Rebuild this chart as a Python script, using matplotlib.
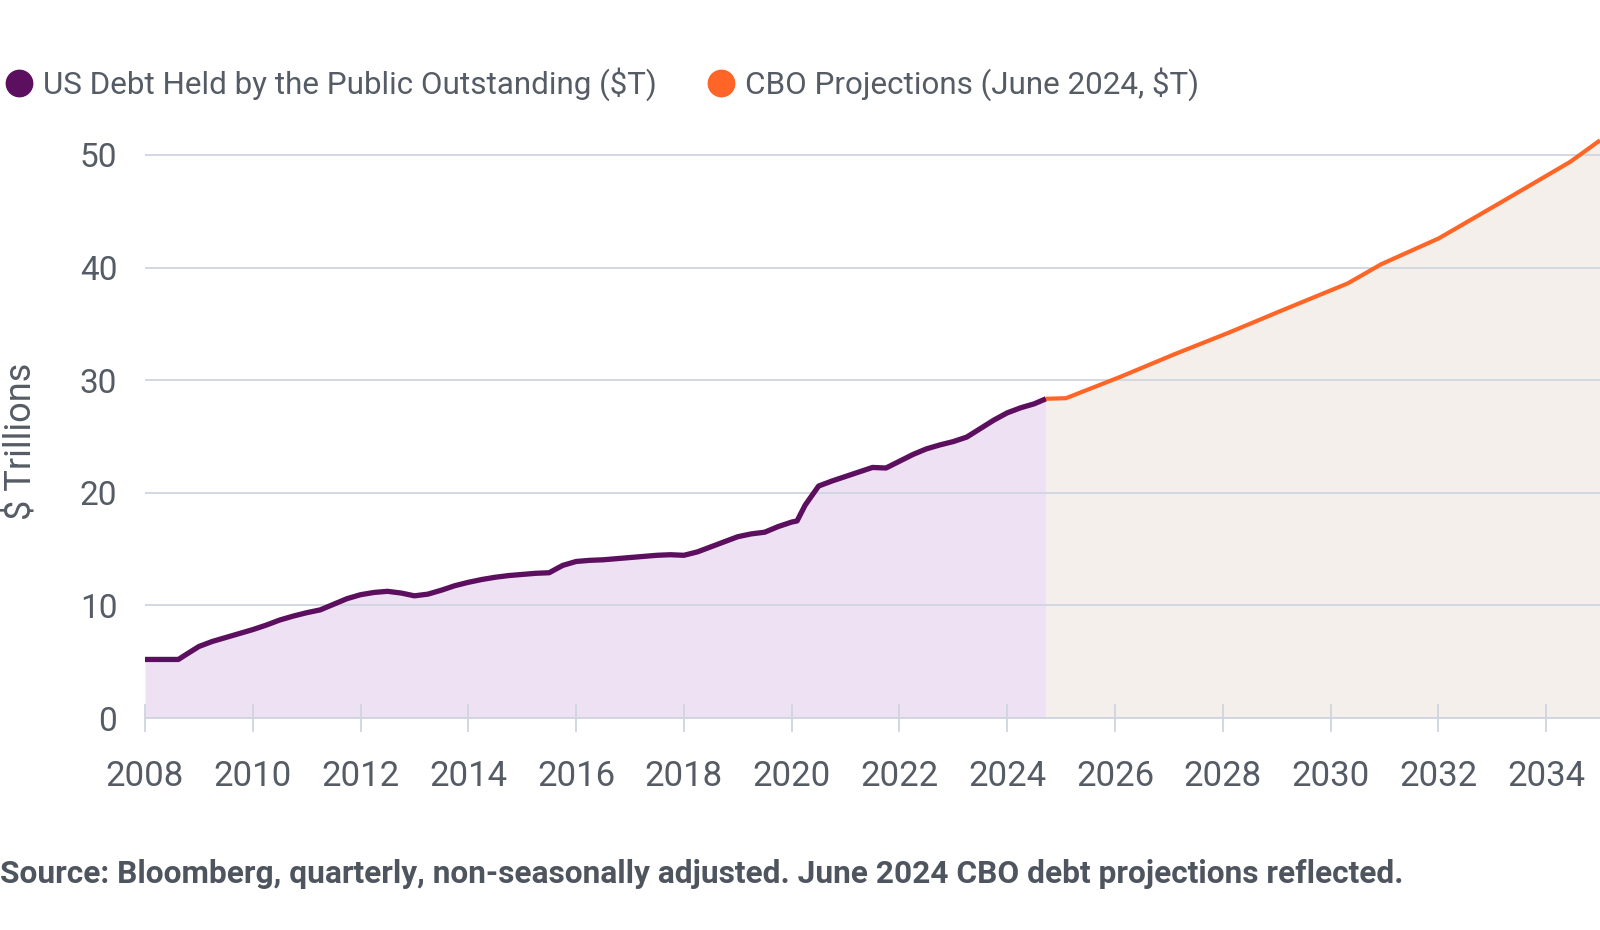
import matplotlib.pyplot as plt
from matplotlib.lines import Line2D

# quarterly debt held by the public ($T)
hist_years = [2008.00, 2008.25, 2008.50, 2008.62, 2008.75, 2009.00, 2009.25, 2009.50, 2009.75,
              2010.00, 2010.25, 2010.50, 2010.75, 2011.00, 2011.25, 2011.50, 2011.75,
              2012.00, 2012.25, 2012.50, 2012.75, 2013.00, 2013.25, 2013.50, 2013.75,
              2014.00, 2014.25, 2014.50, 2014.75, 2015.00, 2015.25, 2015.50, 2015.75,
              2016.00, 2016.25, 2016.50, 2016.75, 2017.00, 2017.25, 2017.50, 2017.75,
              2018.00, 2018.25, 2018.50, 2018.75, 2019.00, 2019.25, 2019.50, 2019.75,
              2020.00, 2020.10, 2020.25, 2020.50, 2020.75, 2021.00, 2021.25, 2021.50, 2021.75,
              2022.00, 2022.25, 2022.50, 2022.75, 2023.00, 2023.25, 2023.50, 2023.75,
              2024.00, 2024.25, 2024.50, 2024.72]
hist_debt = [5.2, 5.2, 5.2, 5.2, 5.6, 6.35, 6.8, 7.15, 7.5,
             7.85, 8.25, 8.7, 9.05, 9.35, 9.6, 10.1, 10.6,
             10.95, 11.15, 11.25, 11.1, 10.85, 11.0, 11.35, 11.75,
             12.05, 12.3, 12.5, 12.65, 12.75, 12.85, 12.9, 13.55,
             13.9, 14.0, 14.05, 14.15, 14.25, 14.35, 14.45, 14.5,
             14.45, 14.75, 15.2, 15.65, 16.1, 16.35, 16.5, 17.0,
             17.4, 17.5, 18.9, 20.6, 21.05, 21.45, 21.85, 22.25, 22.2,
             22.8, 23.4, 23.9, 24.25, 24.55, 24.95, 25.7, 26.45,
             27.1, 27.55, 27.9, 28.35]

# CBO projections (June 2024)
cbo_years = [2024.72, 2025.09, 2026.1, 2027.1, 2028.1, 2029.1, 2030.32, 2030.94,
             2032.01, 2033.2, 2034.45, 2035.0]
cbo_debt = [28.35, 28.4, 30.3, 32.3, 34.2, 36.2, 38.6, 40.3,
            42.6, 45.9, 49.4, 51.3]

x_ticks = list(range(2008, 2035, 2))
y_ticks = [0, 10, 20, 30, 40, 50]

purple = '#5c0f5f'
orange = '#ff6526'
text_col = '#565c66'
grid_col = '#cfd5e0'

plt.rcParams['font.family'] = ['Roboto', 'DejaVu Sans']

fig = plt.figure(figsize=(16, 9.3), dpi=100)
ax = fig.add_axes([145 / 1600, (930 - 718) / 930, 1 - 145 / 1600, 596.8 / 930])

ax.fill_between(hist_years, hist_debt, color='#ede1f3', zorder=1, lw=0)
ax.fill_between(cbo_years, cbo_debt, color='#f4efea', zorder=1, lw=0)
ax.plot(hist_years, hist_debt, color=purple, lw=3.8, zorder=3,
        solid_capstyle='butt', solid_joinstyle='round')
ax.plot(cbo_years, cbo_debt, color=orange, lw=3.0, zorder=3, solid_capstyle='butt')

ax.set_xlim(2008, 2035)
ax.set_ylim(0, 53)
ax.set_xticks(x_ticks)
ax.set_yticks(y_ticks)
ax.set_axisbelow(False)
ax.grid(axis='y', color=grid_col, lw=1.3)

for s in ['top', 'right', 'left']:
    ax.spines[s].set_visible(False)
ax.spines['bottom'].set_color(grid_col)
ax.spines['bottom'].set_linewidth(1.3)

ax.tick_params(axis='x', direction='inout', length=20, width=1.3, color=grid_col,
               pad=20, labelsize=25, labelcolor=text_col)
ax.tick_params(axis='y', length=0, pad=20, labelsize=24, labelcolor=text_col)

fig.text(20 / 1600, 1 - 441 / 930, '$ Trillions', rotation=90, ha='center', va='center',
         fontsize=26, color=text_col)

handles = [Line2D([], [], marker='o', ls='none', ms=19, color=purple),
           Line2D([], [], marker='o', ls='none', ms=19, color=orange)]
labels = ['US Debt Held by the Public Outstanding ($T)', 'CBO Projections (June 2024, $T)']
fig.legend(handles, labels, loc='center left', bbox_to_anchor=(4 / 1600, 1 - 84 / 930),
           ncol=2, frameon=False, fontsize=22.6, handlelength=0.95, handletextpad=0.3,
           columnspacing=1.55, borderaxespad=0, borderpad=0, labelcolor=text_col)

fig.text(0, 1 - 874 / 930,
         'Source: Bloomberg, quarterly, non-seasonally adjusted. June 2024 CBO debt projections reflected.',
         fontsize=22.8, fontweight='bold', color='#4f555e', va='center', ha='left')

fig.savefig('out.png', dpi=100)
